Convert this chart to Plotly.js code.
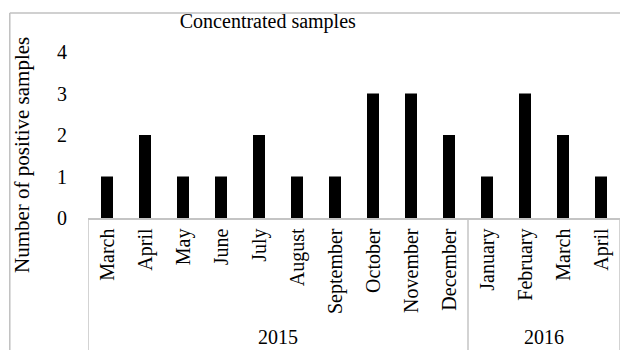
<!DOCTYPE html>
<html>
<head>
<meta charset="utf-8">
<script src="https://cdn.plot.ly/plotly-3.0.1.min.js"></script>
<style>
  html, body { margin: 0; padding: 0; background: #fff; overflow: hidden; }
  #chart { width: 620px; height: 350px; }
</style>
</head>
<body>
<div id="chart"></div>
<script>
// ---- data ----
const months = ['March', 'April', 'May', 'June', 'July', 'August', 'September',
                'October', 'November', 'December', 'January', 'February', 'March', 'April'];
const years = ['2015', '2015', '2015', '2015', '2015', '2015', '2015',
               '2015', '2015', '2015', '2016', '2016', '2016', '2016'];
const positives = [1, 2, 1, 1, 2, 1, 1, 3, 3, 2, 1, 3, 2, 1];
const yTicks = [0, 1, 2, 3, 4];

const FONT = '"Liberation Serif", "Times New Roman", serif';
const GRID = '#c4c4c4';

// positions of the bars on a linear axis (one slot per month)
const slots = months.map((m, i) => i);

// year groups: first/last slot of each year
const groups = [];
years.forEach((yr, i) => {
  const g = groups[groups.length - 1];
  if (g && g.year === yr) g.last = i;
  else groups.push({ year: yr, first: i, last: i });
});

const trace = {
  type: 'bar',
  x: slots,
  y: positives,
  marker: { color: '#000000', line: { width: 0 } },
  hoverinfo: 'skip'
};

const shapes = [];
const annotations = [];
// dividers between year groups (from the axis line down to the bottom)
const dividerPos = [groups[0].first - 0.5].concat(groups.map(g => g.last + 0.5));
dividerPos.forEach(p => shapes.push({
  type: 'line', xref: 'x', yref: 'paper', x0: p, x1: p, y0: 0, y1: -0.85,
  line: { color: GRID, width: 1.5 }
}));
groups.forEach(g => annotations.push({
  xref: 'x', yref: 'paper', x: (g.first + g.last) / 2, y: -0.715,
  text: g.year, showarrow: false, xanchor: 'center', yanchor: 'middle',
  font: { family: FONT, size: 20, color: '#000000' }
}));
// y-axis title
annotations.push({
  xref: 'paper', yref: 'paper', x: -0.124, y: 0.38,
  text: 'Number of positive samples', showarrow: false, textangle: -90,
  xanchor: 'center', yanchor: 'middle',
  font: { family: FONT, size: 21, color: '#000000' }
});
// outer frame (left and top edges)
shapes.push({ type: 'line', xref: 'paper', yref: 'paper', x0: -0.147, x1: -0.147, y0: 1.235, y1: -0.9,
  line: { color: '#c0c0c0', width: 1.5 } });
shapes.push({ type: 'line', xref: 'paper', yref: 'paper', x0: -0.147, x1: 1.1, y0: 1.235, y1: 1.235,
  line: { color: '#c0c0c0', width: 1.5 } });

const layout = {
  width: 620,
  height: 350,
  margin: { l: 88, r: 0, t: 52, b: 132, pad: 0 },
  paper_bgcolor: '#ffffff',
  plot_bgcolor: '#ffffff',
  font: { family: FONT, size: 20, color: '#000000' },
  bargap: 0.684,
  showlegend: false,
  title: {
    text: 'Concentrated samples',
    font: { family: FONT, size: 20, color: '#000000' },
    xref: 'paper', x: 0.338, xanchor: 'center',
    yref: 'container', y: 0.94, yanchor: 'middle'
  },
  xaxis: {
    range: [-0.5, months.length - 0.5],
    tickvals: slots,
    ticktext: months,
    tickangle: -90,
    tickfont: { family: FONT, size: 20, color: '#000000' },
    ticklabelstandoff: 1,
    showline: true,
    linecolor: GRID,
    linewidth: 1.5,
    showgrid: false,
    zeroline: false,
    ticks: '',
    automargin: false,
    fixedrange: true
  },
  yaxis: {
    range: [0, 4],
    tickvals: yTicks,
    ticktext: yTicks.map(String),
    tickfont: { family: FONT, size: 20, color: '#000000' },
    ticklabelstandoff: 20,
    showline: false,
    showgrid: false,
    zeroline: false,
    ticks: '',
    automargin: false,
    fixedrange: true
  },
  shapes: shapes,
  annotations: annotations
};

Plotly.newPlot('chart', [trace], layout, { displayModeBar: false, staticPlot: true });
</script>
</body>
</html>
